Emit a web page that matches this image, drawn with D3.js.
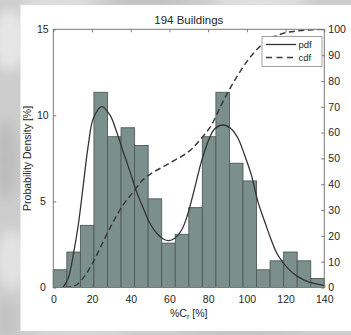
<!DOCTYPE html>
<html><head><meta charset="utf-8">
<script src="https://cdn.jsdelivr.net/npm/d3@7"></script>
<style>
html,body{margin:0;padding:0;background:#cfcfcf;}
svg{display:block;font-family:"Liberation Sans",Arial,Helvetica,sans-serif;}
</style></head>
<body><svg id="c" width="351" height="335"></svg>
<script>
// ---- data ----
const title = "194 Buildings";
const binWidth = 7;
const binStarts = [0,7,14,21,28,35,42,49,56,63,70,77,84,91,98,105,112,119,126,133];
const binPercent = [1.03,2.06,3.61,11.34,8.76,9.28,8.25,5.15,2.58,3.09,4.64,8.76,11.34,7.22,6.19,1.03,1.55,2.06,1.55,0.52];
const pdfX = [5,7.7,10.3,12.9,15.5,18.1,20.7,25,29.3,32.7,36.1,39.6,43,46.5,49.9,53.4,56.8,59.6,62.8,66.3,69.3,73,76.5,79.9,83.3,87.7,92,95.4,98.8,102.3,105.7,109.2,112.6,116,121.2,126.3,131.5,138.4,140];
const pdfY = [0,0.53,1.89,3.63,5.96,8.28,9.83,10.51,10.02,9.05,7.89,6.73,5.57,4.6,3.73,3.15,2.82,2.72,2.86,3.34,4.2,5.76,7.31,8.47,9.21,9.44,9.21,8.67,7.7,6.54,4.99,3.83,2.76,1.89,1.11,0.63,0.34,0.15,0.11];
const cdfX = [6,9,12,16,20.7,25.8,31,36,41,46,51.6,56.8,62,68.8,72,76.5,81.7,86.8,90.3,95.4,100.6,105.7,110.9,117.8,126,134,140];
const cdfY = [0,0.3,1,4.2,10,17.8,25.5,31.9,36.7,41.5,44.6,46.8,49,52,54,57.8,62.9,70.7,75.8,82.3,88.1,92.6,95.9,98.2,99.4,99.8,100];
const xTicks = [0,20,40,60,80,100,120,140];
const yLeftTicks = [0,5,10,15];
const yRightTicks = [0,10,20,30,40,50,60,70,80,90,100];
const legendLabels = ["pdf","cdf"];

// ---- layout ----
const svg = d3.select("#c");
const L = 53.3, R = 324.3, T = 29.3, B = 287.5;
const x = d3.scaleLinear().domain([0,140]).range([L,R]);
const yL = d3.scaleLinear().domain([0,15]).range([B,T]);
const yR = d3.scaleLinear().domain([0,100]).range([B,T]);
const axisCol = "#7a7a7a", textCol = "#262626";

// background texture
const defs = svg.append("defs");
const f = defs.append("filter").attr("id","blur").attr("x","-50%").attr("y","-50%").attr("width","200%").attr("height","200%");
f.append("feGaussianBlur").attr("stdDeviation",6);
svg.append("rect").attr("width",351).attr("height",335).attr("fill","#cdcdcd");
const blobs = [[10,40,18,30,"#e6e6e6"],[5,160,14,40,"#bdbdbd"],[12,260,16,30,"#e2e2e2"],[60,2,40,6,"#e4e4e4"],[150,0,40,5,"#bcbcbc"],[260,2,50,6,"#e8e8e8"],[80,334,50,4,"#e0e0e0"],[240,334,60,4,"#bfbfbf"],[6,320,12,20,"#c2c2c2"]];
svg.append("g").attr("filter","url(#blur)").selectAll("ellipse").data(blobs).join("ellipse")
  .attr("cx",d=>d[0]).attr("cy",d=>d[1]).attr("rx",d=>d[2]).attr("ry",d=>d[3]).attr("fill",d=>d[4]);
// white panel
svg.append("rect").attr("x",20.5).attr("y",5).attr("width",331).attr("height",326).attr("fill","#ffffff");

defs.append("clipPath").attr("id","plot").append("rect").attr("x",L).attr("y",T).attr("width",R-L).attr("height",B-T);

// bars
const bars = binStarts.map((s,i)=>({s, v: binPercent[i]}));
svg.append("g").selectAll("rect").data(bars).join("rect")
  .attr("x",d=>x(d.s)).attr("width",d=>x(d.s+binWidth)-x(d.s))
  .attr("y",d=>yL(d.v)).attr("height",d=>yL(0)-yL(d.v))
  .attr("fill","#7b8f8c").attr("stroke","#4f5a59").attr("stroke-width",0.9);

// curves
const pdfPts = pdfX.map((v,i)=>[v,pdfY[i]]);
const cdfPts = cdfX.map((v,i)=>[v,cdfY[i]]);
const g = svg.append("g").attr("clip-path","url(#plot)");
g.append("path").datum(pdfPts)
  .attr("d", d3.line().x(d=>x(d[0])).y(d=>yL(d[1])).curve(d3.curveCatmullRom.alpha(0.5)))
  .attr("fill","none").attr("stroke","#333").attr("stroke-width",1.3);
g.append("path").datum(cdfPts)
  .attr("d", d3.line().x(d=>x(d[0])).y(d=>yR(d[1])).curve(d3.curveMonotoneX))
  .attr("fill","none").attr("stroke","#3a3a3a").attr("stroke-width",1.5).attr("stroke-dasharray","6,3.5");

// axes
const tl = 3;
function styleAxis(sel){
  sel.select(".domain").remove();
  sel.selectAll(".tick line").attr("stroke",axisCol);
  sel.selectAll(".tick text").attr("fill",textCol).style("font-size","10.5px");
}
svg.append("g").attr("transform",`translate(0,${B})`)
  .call(d3.axisBottom(x).tickValues(xTicks).tickSize(-tl).tickPadding(6)).call(styleAxis)
  .selectAll(".tick text").attr("dy","0.9em");
svg.append("g").attr("transform",`translate(0,${T})`)
  .call(d3.axisTop(x).tickValues(xTicks).tickSize(-tl).tickFormat("")).call(styleAxis);
const gl = svg.append("g").attr("transform",`translate(${L},0)`)
  .call(d3.axisLeft(yL).tickValues(yLeftTicks).tickSize(-tl).tickPadding(7)).call(styleAxis);
gl.selectAll(".tick text").attr("text-anchor","middle").attr("x",-10.5);
svg.append("g").attr("transform",`translate(${R},0)`)
  .call(d3.axisRight(yR).tickValues(yRightTicks).tickSize(-tl).tickPadding(4)).call(styleAxis);
// box
svg.append("rect").attr("x",L).attr("y",T).attr("width",R-L).attr("height",B-T)
  .attr("fill","none").attr("stroke",axisCol).attr("stroke-width",1);

// title & labels
svg.append("text").attr("x",(L+R)/2).attr("y",23.5).attr("text-anchor","middle")
  .attr("fill",textCol).style("font-size","11.5px").text(title);
const xl = svg.append("text").attr("x",(L+R)/2).attr("y",316.5).attr("text-anchor","middle")
  .attr("fill",textCol).style("font-size","10.5px");
xl.append("tspan").text("%C");
xl.append("tspan").attr("dy",2.5).style("font-size","7.5px").text("r");
xl.append("tspan").attr("dy",-2.5).text(" [%]");
svg.append("text").attr("transform",`translate(31,${(T+B)/2}) rotate(-90)`).attr("text-anchor","middle")
  .attr("fill",textCol).style("font-size","10.5px").text("Probability Density [%]");

// legend
const lg = svg.append("g");
lg.append("rect").attr("x",262).attr("y",36.5).attr("width",60).attr("height",30)
  .attr("fill","#fff").attr("stroke","#8a8a8a").attr("stroke-width",0.8);
const legY = [44.5, 57.5];
lg.append("line").attr("x1",266).attr("x2",296).attr("y1",legY[0]).attr("y2",legY[0])
  .attr("stroke","#333").attr("stroke-width",1.3);
lg.append("line").attr("x1",266).attr("x2",296).attr("y1",legY[1]).attr("y2",legY[1])
  .attr("stroke","#3a3a3a").attr("stroke-width",1.4).attr("stroke-dasharray","6,4.5");
lg.selectAll("text").data(legendLabels).join("text")
  .attr("x",298.5).attr("y",(d,i)=>legY[i]+3.3).attr("fill",textCol).style("font-size","9.5px").text(d=>d);
</script></body></html>
